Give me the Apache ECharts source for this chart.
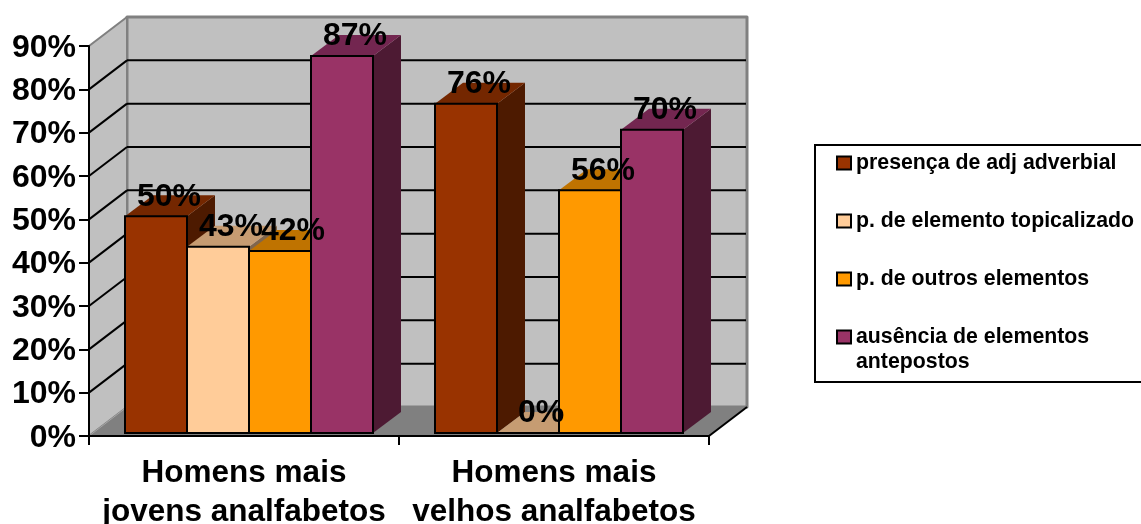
<!DOCTYPE html>
<html><head><meta charset="utf-8">
<style>html,body{margin:0;padding:0;background:#fff;overflow:hidden}#c{width:1141px;height:524px}</style>
<script src="https://cdn.jsdelivr.net/npm/echarts@6/dist/echarts.min.js"></script>
</head><body><div id="c"></div>
<script>
const categories = ['Homens mais\njovens analfabetos', 'Homens mais\nvelhos analfabetos'];
const seriesNames = ['presença de adj adverbial', 'p. de elemento topicalizado', 'p. de outros elementos', 'ausência de elementos antepostos'];
const presenca = [50, 76];
const topicalizado = [43, 0];
const outros = [42, 56];
const ausencia = [87, 70];
const yTicks = [0, 10, 20, 30, 40, 50, 60, 70, 80, 90];
const colors = [
  {front:'#993300', top:'#742700', side:'#4d1a00'},
  {front:'#ffcc99', top:'#c69c72', side:'#80664d'},
  {front:'#ff9900', top:'#bf7300', side:'#804d00'},
  {front:'#993366', top:'#732650', side:'#4d1a33'}
];
const FONT = '"Liberation Sans", Arial, sans-serif';
const WALL_DX = 38, WALL_DY = -29;
const FRONT_DX = 5, FRONT_DY = -3;
const BAR_DX = 28, BAR_DY = -21;

function poly(points, fill, stroke, lw, z2) {
  return {type:'polygon', shape:{points}, z2: z2 || 0,
    style:{fill, stroke: stroke || 'none', lineWidth: lw === undefined ? 2 : lw, lineJoin:'round'}};
}
function line(x1, y1, x2, y2, stroke, lw, z2) {
  return {type:'line', shape:{x1, y1, x2, y2}, z2: z2 || 0, style:{stroke, lineWidth: lw}};
}
function renderWalls(params, api) {
  const g = params.coordSys;
  const t = api.value(1);
  const y = api.coord([0, t])[1];
  const L = g.x, R = g.x + g.width, B = g.y + g.height, T = g.y;
  const kids = [];
  if (t === 0) {
    kids.push(poly([[L+WALL_DX,T+WALL_DY],[R+WALL_DX,T+WALL_DY],[R+WALL_DX,B+WALL_DY],[L+WALL_DX,B+WALL_DY]], '#c0c0c0', '#808080', 3, 0));
    kids.push(poly([[L,T],[L+WALL_DX,T+WALL_DY],[L+WALL_DX,B+WALL_DY],[L,B]], '#c0c0c0', '#808080', 2, 1));
    kids.push(poly([[L,B],[L+WALL_DX,B+WALL_DY],[R+WALL_DX,B+WALL_DY],[R,B]], '#808080', 'none', 0, 2));
    kids.push(line(L, B, L+WALL_DX, B+WALL_DY, '#a6a6a6', 1, 3));
    kids.push(line(R, B, R+WALL_DX, B+WALL_DY, '#000', 2, 3));
  } else if (t < yTicks[yTicks.length - 1]) {
    kids.push(line(L+WALL_DX, y+WALL_DY, R+WALL_DX-1, y+WALL_DY, '#000', 2, 3));
    kids.push(line(L, y, L+WALL_DX, y+WALL_DY, '#000', 2, 3));
  }
  return {type:'group', children:kids};
}
function makeBarRender(idx) {
  return function (params, api) {
    const cat = api.value(0), val = api.value(1);
    const c = api.coord([cat, val]);
    const base = api.coord([cat, 0]);
    const bw = api.size([1, 0])[0] * 0.2;
    const x0 = c[0] - 2 * bw + idx * bw + FRONT_DX, x1 = x0 + bw;
    const yt = c[1] + FRONT_DY, yb = base[1] + FRONT_DY;
    const col = colors[idx];
    const kids = [
      poly([[x1,yt],[x1+BAR_DX,yt+BAR_DY],[x1+BAR_DX,yb+BAR_DY],[x1,yb]], col.side),
      poly([[x0,yt],[x0+BAR_DX,yt+BAR_DY],[x1+BAR_DX,yt+BAR_DY],[x1,yt]], col.top),
      {type:'rect', shape:{x:x0, y:yt, width:bw, height:yb-yt}, style:{fill:col.front, stroke:'#000', lineWidth:2}},
      {type:'text', z2:100, silent:true, x:(x0+x1)/2+13, y:yt-19.5,
        style:{text: val + '%', font:'bold 32px ' + FONT, fill:'#000', align:'center', verticalAlign:'middle'}}
    ];
    return {type:'group', children:kids};
  };
}
const values = [presenca, topicalizado, outros, ausencia];
const barSeries = values.map((arr, i) => ({
  type:'custom', name:seriesNames[i], coordinateSystem:'cartesian2d', z:3,
  itemStyle:{color:colors[i].front},
  encode:{x:0, y:1}, clip:false,
  data:arr.map((v, k) => [k, v]),
  renderItem:makeBarRender(i)
}));
const option = {
  animation:false,
  backgroundColor:'#fff',
  grid:{left:89, top:46, width:620, height:390, containLabel:false, outerBoundsMode:'none'},
  xAxis:{type:'category', data:categories, z:10,
    axisLine:{lineStyle:{color:'#000', width:2}},
    axisTick:{show:true, alignWithLabel:false, length:9, lineStyle:{color:'#000', width:2}},
    axisLabel:{interval:0, margin:18, hideOverlap:false, color:'#000', fontFamily:FONT, fontWeight:'bold', fontSize:31.5, lineHeight:39},
    splitLine:{show:false}},
  yAxis:{type:'value', min:0, max:90, interval:10, z:10,
    axisLine:{show:true, lineStyle:{color:'#000', width:2}},
    axisTick:{show:true, length:10, lineStyle:{color:'#000', width:2}},
    axisLabel:{margin:13, color:'#000', fontFamily:FONT, fontWeight:'bold', fontSize:32, verticalAlign:'top', lineHeight:4, formatter:'{value}%'},
    splitLine:{show:false}},
  legend:{orient:'vertical', left:836, top:151, padding:0, itemWidth:14, itemHeight:13, itemGap:34,
    icon:'rect', selectedMode:false,
    itemStyle:{borderColor:'#000', borderWidth:2},
    textStyle:{color:'#000', fontFamily:FONT, fontWeight:'bold', fontSize:21.3, lineHeight:24},
    formatter:n => n.replace(' antepostos',''),
    data:seriesNames},
  graphic:[
    {type:'rect', z:1, shape:{x:815, y:145, width:400, height:237}, style:{fill:'#fff', stroke:'#000', lineWidth:2}},
    {type:'text', z:20, x:856, y:362, style:{text:'antepostos', fill:'#000', font:'bold 21.3px ' + FONT, verticalAlign:'middle'}}
  ],
  series:[{type:'custom', name:'walls', z:1, silent:true, clip:false, coordinateSystem:'cartesian2d',
    encode:{x:0, y:1}, data:yTicks.map(t => [0, t]), renderItem:renderWalls}].concat(barSeries)
};
echarts.init(document.getElementById('c'), null, {renderer:'canvas'}).setOption(option);
</script></body></html>
